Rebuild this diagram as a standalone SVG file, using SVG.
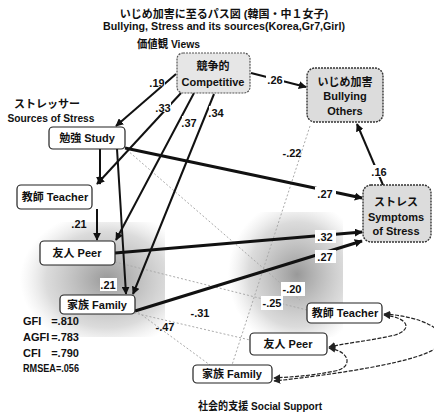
<svg xmlns="http://www.w3.org/2000/svg" width="434" height="416" viewBox="0 0 434 416">
<defs>
<style>
text{font-family:"Liberation Sans","Noto Sans CJK JP",sans-serif;font-weight:bold;fill:#111}
.t{font-size:11px}
.n{font-size:11px;text-anchor:middle}
.lb{font-size:11px;text-anchor:middle}
.box{fill:#fff;stroke:#222;stroke-width:1.2}
.gbox{fill:#dcdcdc;stroke:#333;stroke-width:1.4;stroke-dasharray:2 1}
.cbox{fill:#e6e6e6;stroke:#555;stroke-width:1.2;stroke-dasharray:2 1}
.th{stroke:#111;stroke-width:3;fill:none}
.md{stroke:#111;stroke-width:2;fill:none}
.dot{stroke:#aaa;stroke-width:1;stroke-dasharray:2 2;fill:none}
.cv{stroke:#222;stroke-width:1.2;stroke-dasharray:4 1.5;fill:none}
</style>
<marker id="ah" viewBox="0 0 10 10" refX="9" refY="5" markerWidth="8" markerHeight="8" markerUnits="userSpaceOnUse" orient="auto"><path d="M0,0 L10,5 L0,10 z" fill="#111"/></marker>
<marker id="as" viewBox="0 0 10 10" refX="9" refY="5" markerWidth="7" markerHeight="7" markerUnits="userSpaceOnUse" orient="auto-start-reverse"><path d="M0,0 L10,5 L0,10 z" fill="#222"/></marker>
<radialGradient id="sh" cx="0.6" cy="0.5" r="0.6"><stop offset="0" stop-color="#777" stop-opacity="0.75"/><stop offset="0.7" stop-color="#999" stop-opacity="0.35"/><stop offset="1" stop-color="#bbb" stop-opacity="0"/></radialGradient>
</defs>
<rect width="434" height="416" fill="#fff"/>
<g id="shading">
<rect x="20" y="222" width="145" height="115" fill="url(#sh)"/>
<rect x="228" y="212" width="115" height="125" fill="url(#sh)"/>
</g>
<g id="titles">
<text class="t" x="224" y="18" text-anchor="middle">いじめ加害に至るパス図 (韓国・中１女子)</text>
<text class="t" x="224" y="30" text-anchor="middle" textLength="242" lengthAdjust="spacingAndGlyphs">Bullying, Stress and its sources(Korea,Gr7,Girl)</text>
<text class="t" x="137" y="48" textLength="63" lengthAdjust="spacingAndGlyphs">価値観 Views</text>
<text class="t" x="47" y="108" text-anchor="middle">ストレッサー</text>
<text class="t" x="51" y="122" text-anchor="middle" textLength="87" lengthAdjust="spacingAndGlyphs">Sources of Stress</text>
<text class="t" x="260" y="410" text-anchor="middle" textLength="124" lengthAdjust="spacingAndGlyphs">社会的支援 Social Support</text>
</g>
<g id="fit">
<text class="t" x="23" y="325">GFI</text><text class="t" x="79" y="325" text-anchor="end">=.810</text>
<text class="t" x="23" y="341">AGFI</text><text class="t" x="79" y="341" text-anchor="end">=.783</text>
<text class="t" x="23" y="357">CFI</text><text class="t" x="79" y="357" text-anchor="end">=.790</text>
<text class="t" x="23" y="372" textLength="56" lengthAdjust="spacingAndGlyphs">RMSEA=.056</text>
</g>
<g id="connectors">
<path class="dot" d="M127,150 L300,300"/>
<path class="dot" d="M310,126 L232,365"/>
<path class="dot" d="M135,310 L210,365"/>
<path class="dot" d="M115,262 L307,310"/>
<path class="dot" d="M130,312 L250,340"/>
<line class="md" x1="176" y1="74" x2="116" y2="126" marker-end="url(#ah)"/>
<line class="md" x1="181" y1="93" x2="97" y2="184" marker-end="url(#ah)"/>
<line class="md" x1="194" y1="93" x2="116" y2="240" marker-end="url(#ah)"/>
<line class="md" x1="214" y1="94" x2="133" y2="294" marker-end="url(#ah)"/>
<line class="md" x1="100" y1="149" x2="100" y2="184" marker-end="url(#ah)"/>
<line class="md" x1="97" y1="209" x2="97" y2="240" marker-end="url(#ah)"/>
<line class="md" x1="117" y1="149" x2="126" y2="294" marker-end="url(#ah)"/>
<line class="md" x1="251" y1="73" x2="306" y2="87" marker-end="url(#ah)"/>
<line class="md" x1="383" y1="185" x2="357" y2="124" marker-end="url(#ah)"/>
<line class="th" x1="125" y1="148" x2="362" y2="198" marker-end="url(#ah)"/>
<line class="th" x1="115" y1="253" x2="362" y2="232" marker-end="url(#ah)"/>
<line class="th" x1="135" y1="311" x2="362" y2="241" marker-end="url(#ah)"/>
<path class="cv" d="M384,315 C410,318 412,330 395,335 C370,341 345,343 329,347" marker-start="url(#as)" marker-end="url(#as)"/>
<path class="cv" d="M329,348 C352,352 352,368 335,371 C310,376 290,377 274,378" marker-start="url(#as)" marker-end="url(#as)"/>
<path class="cv" d="M384,314 C420,316 450,330 440,345 C425,362 330,375 274,381" marker-start="url(#as)" marker-end="url(#as)"/>
</g>
<g id="labels">
<rect x="150" y="76" width="15" height="11" fill="#fff"/>
<text class="lb" x="157" y="87">.19</text>
<rect x="156" y="101" width="15" height="11" fill="#fff"/>
<text class="lb" x="163" y="112">.33</text>
<rect x="182" y="116" width="15" height="11" fill="#fff"/>
<text class="lb" x="189" y="127">.37</text>
<rect x="209" y="106" width="15" height="11" fill="#fff"/>
<text class="lb" x="216" y="117">.34</text>
<rect x="266" y="73" width="18" height="12" fill="#fff"/>
<text class="lb" x="275" y="84">.26</text>
<rect x="372" y="165" width="15" height="12" fill="#fff"/>
<text class="lb" x="379" y="176">.16</text>
<text class="lb" x="292" y="157">-.22</text>
<rect x="315" y="187" width="21" height="13" fill="#fff"/>
<text class="lb" x="325" y="198">.27</text>
<rect x="315" y="230" width="21" height="13" fill="#fff"/>
<text class="lb" x="325" y="241">.32</text>
<rect x="315" y="250" width="21" height="13" fill="#fff"/>
<text class="lb" x="325" y="261">.27</text>
<text class="lb" x="79" y="228">.21</text>
<rect x="100" y="278" width="17" height="13" fill="#fff"/>
<text class="lb" x="108" y="289">.21</text>
<text class="lb" x="200" y="317">-.31</text>
<text class="lb" x="165" y="331">-.47</text>
<rect x="281" y="282" width="24" height="14" fill="#fff"/>
<text class="lb" x="292" y="293">-.20</text>
<rect x="261" y="296" width="22" height="14" fill="#fff"/>
<text class="lb" x="272" y="307">-.25</text>
</g>
<g id="n-competitive"><rect class="cbox" x="177" y="53" width="73" height="40" rx="6"/><text class="n" x="213" y="70">競争的</text><text class="n" x="213" y="86">Competitive</text></g>
<g id="n-bullying"><rect class="gbox" x="307" y="68" width="76" height="54" rx="8"/><text class="n" x="345" y="86">いじめ加害</text><text class="n" x="345" y="100">Bullying</text><text class="n" x="345" y="115">Others</text></g>
<g id="n-stress"><rect class="gbox" x="363" y="185" width="68" height="57" rx="8"/><text class="n" x="396" y="206">ストレス</text><text class="n" x="396" y="221">Symptoms</text><text class="n" x="396" y="235">of Stress</text></g>
<g id="n-study"><rect class="box" x="49" y="127" width="76" height="22" rx="4"/><text class="n" x="87" y="142">勉強 Study</text></g>
<g id="n-teacher-s"><rect class="box" x="17" y="185" width="75" height="24" rx="4"/><text class="n" x="55" y="201">教師 Teacher</text></g>
<g id="n-peer-s"><rect class="box" x="40" y="241" width="75" height="24" rx="4"/><text class="n" x="77" y="257">友人 Peer</text></g>
<g id="n-family-s"><rect class="box" x="60" y="295" width="75" height="19" rx="4"/><text class="n" x="97" y="309">家族 Family</text></g>
<g id="n-teacher-ss"><rect class="box" x="307" y="303" width="75" height="20" rx="4"/><text class="n" x="345" y="317">教師 Teacher</text></g>
<g id="n-peer-ss"><rect class="box" x="250" y="333" width="77" height="22" rx="4"/><text class="n" x="288" y="348">友人 Peer</text></g>
<g id="n-family-ss"><rect class="box" x="193" y="365" width="79" height="18" rx="4"/><text class="n" x="232" y="378">家族 Family</text></g>
</svg>
